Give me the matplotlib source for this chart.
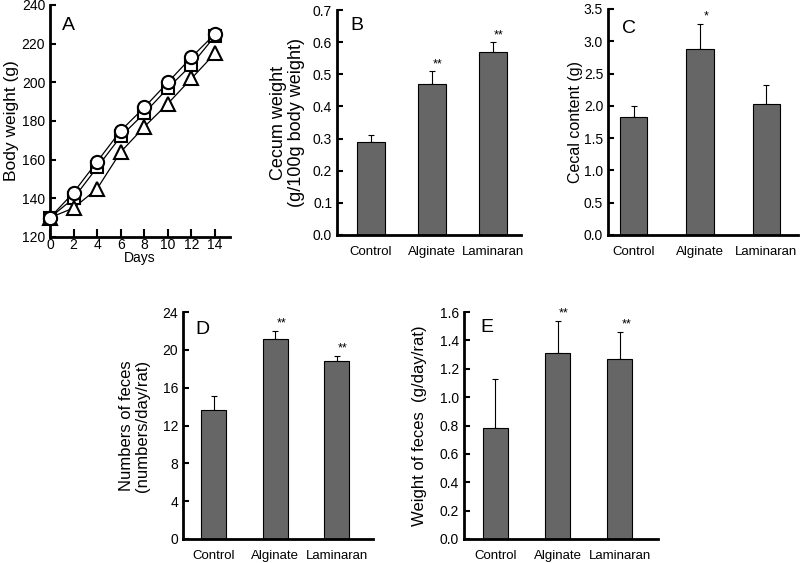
import numpy as np
import matplotlib
matplotlib.use('Agg')
import matplotlib.pyplot as plt

plt.rcParams['font.family'] = ['Liberation Sans', 'DejaVu Sans']

# Panel A: body weight over days
days = [0, 2, 4, 6, 8, 10, 12, 14]
bw_circle = [130, 143, 159, 175, 187, 200, 213, 225]
bw_square = [130, 140, 156, 172, 184, 197, 209, 224]
bw_triangle = [130, 135, 145, 164, 177, 189, 202, 215]

groups = ['Control', 'Alginate', 'Laminaran']

# Panel B: cecum weight
cecum_mean = [0.29, 0.47, 0.57]
cecum_err = [0.02, 0.04, 0.03]
cecum_sig = ['', '**', '**']

# Panel C: cecal content
cecal_mean = [1.83, 2.88, 2.03]
cecal_err = [0.17, 0.39, 0.29]
cecal_sig = ['', '*', '']

# Panel D: number of feces
nfeces_mean = [13.6, 21.1, 18.8]
nfeces_err = [1.5, 0.9, 0.6]
nfeces_sig = ['', '**', '**']

# Panel E: weight of feces
wfeces_mean = [0.78, 1.31, 1.27]
wfeces_err = [0.35, 0.23, 0.19]
wfeces_sig = ['', '**', '**']

W, H = 800, 563
fig = plt.figure(figsize=(8, 5.63), dpi=100)


def px_axes(left, right, top, bottom):
    return fig.add_axes([left / W, 1 - bottom / H, (right - left) / W, (bottom - top) / H])


def style(ax):
    for s in ['top', 'right']:
        ax.spines[s].set_visible(False)
    for s in ['left', 'bottom']:
        ax.spines[s].set_linewidth(2)
    ax.tick_params(direction='in', length=4, width=1.5, labelsize=10)


def bar_panel(ax, means, errs, sig, ylim, yticks, yfmt, ylabel, label_fs, letter,
              xlim, width, label_x, letter_xy):
    style(ax)
    x = np.arange(len(groups))
    ax.bar(x, means, width=width, color='#666666', edgecolor='black', linewidth=0.8, zorder=2)
    ax.errorbar(x, means, yerr=[np.zeros(len(errs)), errs], fmt='none', ecolor='black',
                elinewidth=0.8, capsize=2.5, capthick=0.8, zorder=1)
    span = ylim[1] - ylim[0]
    for xi, m, e, s in zip(x, means, errs, sig):
        if s:
            ax.text(xi + 0.1, m + e + span * 0.005, s, ha='center', va='bottom', fontsize=9)
    ax.set_xlim(*xlim)
    ax.set_ylim(*ylim)
    ax.set_yticks(yticks)
    ax.set_yticklabels([yfmt.format(v) for v in yticks])
    ax.set_xticks(x)
    ax.set_xticklabels(groups, fontsize=9.5)
    ax.tick_params(axis='x', length=0, pad=8)
    ax.set_ylabel(ylabel, fontsize=label_fs, linespacing=1.05)
    ax.yaxis.set_label_coords(label_x, 0.5)
    ax.text(letter_xy[0], letter_xy[1], letter, transform=ax.transAxes,
            ha='left', va='top', fontsize=14)


# A
axA = px_axes(50, 230, 5, 237)
style(axA)
axA.plot(days, bw_square, color='black', lw=0.9, marker='s', ms=8, mfc='white',
         mec='black', mew=1.5, clip_on=False, zorder=3)
axA.plot(days, bw_triangle, color='black', lw=0.9, marker='^', ms=10, mfc='white',
         mec='black', mew=1.5, clip_on=False, zorder=4)
axA.plot(days, bw_circle, color='black', lw=0.9, marker='o', ms=9.5, mfc='white',
         mec='black', mew=1.5, clip_on=False, zorder=5)
axA.set_xlim(0, 15.27)
axA.set_ylim(120, 240)
axA.set_xticks(days)
axA.set_yticks(np.arange(120, 241, 20))
axA.tick_params(axis='x', length=6, pad=1)
axA.set_xlabel('Days', fontsize=10, labelpad=-1)
axA.set_ylabel('Body weight (g)', fontsize=12.5)
axA.yaxis.set_label_coords(-0.17, 0.5)
axA.text(0.067, 0.95, 'A', transform=axA.transAxes, ha='left', va='top', fontsize=14)

# B
axB = px_axes(337, 521, 10, 235)
bar_panel(axB, cecum_mean, cecum_err, cecum_sig, (0, 0.7), np.arange(0, 0.71, 0.1), '{:.1f}',
          'Cecum weight\n(g/100g body weight)', 13, 'B', (-0.557, 2.46), 0.46, -0.175, (0.07, 0.97))

# C
axC = px_axes(608, 798, 9, 235)
bar_panel(axC, cecal_mean, cecal_err, cecal_sig, (0, 3.5), np.arange(0, 3.51, 0.5), '{:.1f}',
          'Cecal content (g)', 11.5, 'C', (-0.39, 2.48), 0.41, -0.13, (0.074, 0.95))

# D
axD = px_axes(183, 373, 312, 539)
bar_panel(axD, nfeces_mean, nfeces_err, nfeces_sig, (0, 24), np.arange(0, 25, 4), '{:.0f}',
          'Numbers of feces\n(numbers/day/rat)', 12, 'D', (-0.5, 2.59), 0.4, -0.175, (0.063, 0.96))

# E
axE = px_axes(464, 658, 312, 539)
bar_panel(axE, wfeces_mean, wfeces_err, wfeces_sig, (0, 1.6), np.arange(0, 1.61, 0.2), '{:.1f}',
          'Weight of feces  (g/day/rat)', 12, 'E', (-0.5, 2.61), 0.4, -0.19, (0.082, 0.97))

fig.savefig('out.png', dpi=100)
